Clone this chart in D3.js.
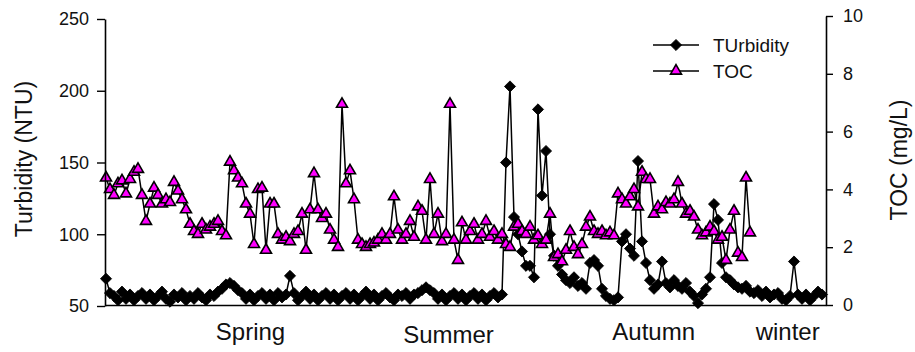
<!DOCTYPE html>
<html>
<head>
<meta charset="utf-8">
<script src="https://cdn.jsdelivr.net/npm/d3@7"></script>
<style>
  body { margin: 0; background: #fff; }
  svg text { font-family: "Liberation Sans", Arial, sans-serif; fill: #111; }
</style>
</head>
<body>
<svg width="915" height="352"></svg>
<script>
// seasons along the bottom, placed at a sample index
const seasons = ["Spring", "Summer", "Autumn", "winter"];
const seasonAt = [36, 85.5, 136.8, 170.3];

const turbidityTicks = [50, 100, 150, 200, 250];
const tocTicks = [0, 2, 4, 6, 8, 10];

// turbidity (NTU), one sample every ~2 days
const turbidity = [
  69, 59, 57, 54, 60, 55, 58, 54, 57, 59,
  55, 58, 54, 57, 60, 55, 53, 58, 56, 59,
  54, 57, 55, 59, 56, 54, 58, 57, 60, 62,
  65, 66, 64, 61, 59, 55, 58, 54, 57, 59,
  55, 58, 54, 59, 56, 58, 71, 59, 54, 57,
  60, 55, 58, 54, 57, 59, 55, 58, 54, 57,
  59, 55, 58, 54, 57, 60, 55, 58, 54, 57,
  59, 56, 54, 58, 57, 59, 55, 58, 59, 61,
  63, 61, 59, 55, 58, 54, 57, 59, 55, 58,
  54, 57, 59, 55, 58, 54, 57, 59, 56, 58,
  150, 203, 112, 100, 88, 78, 78, 70, 187, 127,
  158, 100, 85, 78, 72, 68, 66, 70, 64, 66,
  62, 80, 82, 78, 62, 57, 55, 54, 56, 95,
  100, 90, 85, 151, 95, 80, 68, 62, 65, 81,
  66, 63, 68, 64, 62, 66, 60, 57, 52, 58,
  62, 70, 121, 110, 80, 70, 68, 65, 63, 62,
  64, 60, 59, 61, 57, 60, 56, 58, 59, 55,
  54, 57, 81, 58, 55, 58, 54, 57, 60, 58
];

// TOC (mg/L), same sampling, stops before winter ends
const toc = [
  4.4, 4.0, 3.8, 4.2, 4.3, 3.85, 4.35, 4.6, 4.7, 3.8,
  2.9, 3.5, 4.05, 3.8, 3.5, 3.65, 3.55, 4.25, 3.95, 3.65,
  3.3, 2.8, 2.55, 2.45, 2.8, 2.6, 2.7, 2.8, 2.9, 2.55,
  2.4, 4.95, 4.65, 4.4, 4.2, 3.5, 3.15, 2.1, 4.0, 4.05,
  1.9, 3.5, 3.5, 2.45, 2.25, 2.35, 2.2, 2.45, 2.55, 3.15,
  1.9, 3.3, 4.55, 3.3, 3.0, 3.15, 2.6, 2.25, 2.0, 6.95,
  4.2, 4.65, 3.65, 2.25, 2.1, 2.0, 2.1, 2.15, 2.25, 2.45,
  2.25, 2.45, 3.75, 2.6, 2.25, 2.45, 2.9, 2.35, 3.4, 3.25,
  2.25, 4.35, 2.45, 3.15, 2.2, 2.45, 6.95, 2.25, 1.55, 2.85,
  2.25, 2.55, 2.8, 2.25, 2.45, 2.9, 2.35, 2.55, 2.25, 2.45,
  2.1, 2.0, 2.7, 2.8, 2.55, 2.45, 2.7, 2.25, 2.4, 2.1,
  2.25, 3.15, 1.65, 1.75, 1.5, 1.9, 2.55, 2.0, 1.75, 2.1,
  2.7, 3.05, 2.55, 2.45, 2.55, 2.4, 2.5, 2.4, 3.85, 3.65,
  3.5, 3.75, 4.0, 3.4, 4.6, 4.35, 4.35, 3.15, 3.4, 3.3,
  3.55, 3.5, 3.65, 4.25, 3.5, 3.15, 3.25, 3.05, 2.6, 2.4,
  2.5, 2.7, 2.55, 2.25, 2.35, 1.55, 2.6, 3.25, 1.8, 1.65,
  4.4, 2.5
];

const svg = d3.select("svg");

const x = d3.scaleLinear().domain([-0.25, 180]).range([105, 826]);
const yT = d3.scaleLinear().domain([50, 250]).range([306, 19]);
const yC = d3.scaleLinear().domain([0, 10]).range([305, 16]);

const diamond = d3.symbol(d3.symbolSquare, 62);
const triangle = d3.symbol(d3.symbolTriangle, 52);

// turbidity series
svg.append("path")
  .datum(turbidity)
  .attr("fill", "none")
  .attr("stroke", "#000")
  .attr("stroke-width", 1.5)
  .attr("d", d3.line().x((d, i) => x(i)).y(d => yT(d)));

svg.append("g")
  .selectAll("path")
  .data(turbidity)
  .join("path")
  .attr("d", diamond)
  .attr("fill", "#000")
  .attr("stroke", "#000")
  .attr("stroke-width", 0.8)
  .attr("transform", (d, i) => `translate(${x(i)},${yT(d)}) rotate(45)`);

// TOC series
svg.append("path")
  .datum(toc)
  .attr("fill", "none")
  .attr("stroke", "#000")
  .attr("stroke-width", 1.5)
  .attr("d", d3.line().x((d, i) => x(i)).y(d => yC(d)));

svg.append("g")
  .selectAll("path")
  .data(toc)
  .join("path")
  .attr("d", triangle)
  .attr("fill", "#ff00ff")
  .attr("stroke", "#000")
  .attr("stroke-width", 1.6)
  .attr("transform", (d, i) => `translate(${x(i)},${yC(d)})`);

// axes
function styleAxis(g, size) {
  g.selectAll(".domain").attr("stroke", "#000").attr("stroke-width", 1.6);
  g.selectAll(".tick line").attr("stroke", "#000").attr("stroke-width", 1.4);
  g.selectAll("text").attr("font-size", size).attr("font-family", null).attr("fill", "#111");
}

svg.append("g")
  .attr("transform", `translate(${x.range()[0]},0)`)
  .call(d3.axisLeft(yT).tickValues(turbidityTicks).tickSize(8).tickSizeOuter(0).tickPadding(8))
  .call(g => styleAxis(g, 18));

svg.append("g")
  .attr("transform", `translate(${x.range()[1]},0)`)
  .call(d3.axisRight(yC).tickValues(tocTicks).tickFormat(d3.format("d")).tickSize(7).tickSizeOuter(0).tickPadding(10))
  .call(g => styleAxis(g, 18));

svg.append("g")
  .attr("transform", `translate(0,${yT.range()[0] - 1})`)
  .call(d3.axisBottom(x).tickValues(seasonAt).tickFormat((d, i) => seasons[i]).tickSize(0).tickSizeOuter(0).tickPadding(18))
  .call(g => styleAxis(g, 24))
  .call(g => g.selectAll(".tick text").filter((d, i) => i === 1).attr("dy", "0.85em"));

// axis titles
svg.append("text")
  .attr("transform", "translate(32,159) rotate(-90)")
  .attr("text-anchor", "middle")
  .attr("font-size", 23)
  .text("Turbidity (NTU)");

svg.append("text")
  .attr("transform", "translate(907,160) rotate(-90)")
  .attr("text-anchor", "middle")
  .attr("font-size", 23)
  .text("TOC (mg/L)");

// legend
const legend = [
  { label: "TUrbidity", sym: "d", y: 45 },
  { label: "TOC", sym: "t", y: 71 }
];
const lg = svg.append("g").selectAll("g").data(legend).join("g")
  .attr("transform", d => `translate(653,${d.y})`);
lg.append("line").attr("x1", 0).attr("x2", 46).attr("stroke", "#000").attr("stroke-width", 1.5);
lg.append("path")
  .attr("d", d => d.sym === "d" ? diamond() : triangle())
  .attr("fill", d => d.sym === "d" ? "#000" : "#ff00ff")
  .attr("stroke", "#000")
  .attr("stroke-width", d => d.sym === "d" ? 0.8 : 1.6)
  .attr("transform", d => d.sym === "d" ? "translate(23,0) rotate(45)" : "translate(23,0)");
lg.append("text")
  .attr("x", 60)
  .attr("dy", "0.35em")
  .attr("font-size", 19)
  .text(d => d.label);
</script>
</body>
</html>
